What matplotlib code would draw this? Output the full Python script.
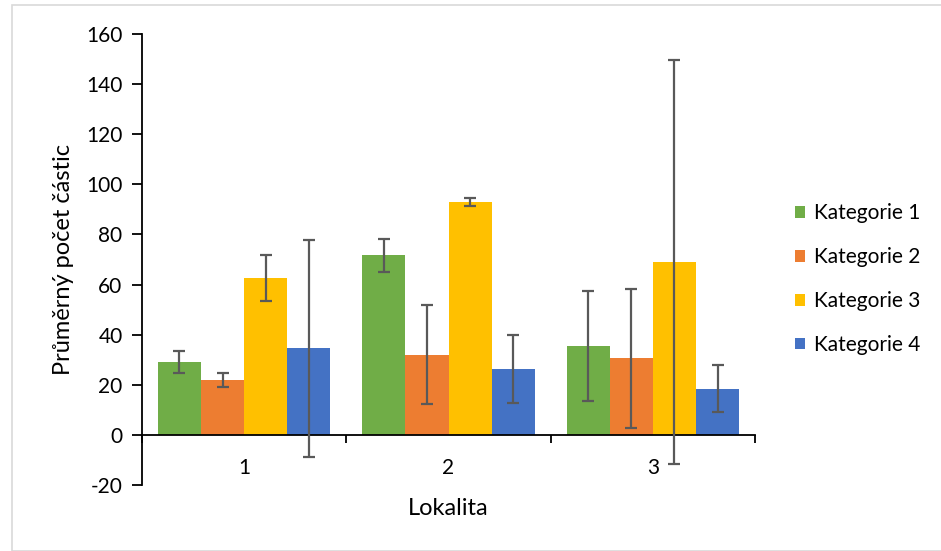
import matplotlib
matplotlib.use("Agg")
import matplotlib.pyplot as plt
from matplotlib.patches import Rectangle
import numpy as np

plt.rcParams['font.family'] = ['Lato', 'DejaVu Sans']

lokality = ["1", "2", "3"]
serie = ["Kategorie 1", "Kategorie 2", "Kategorie 3", "Kategorie 4"]
kat1 = [29.0, 71.6, 35.6]
kat2 = [21.9, 32.0, 30.5]
kat3 = [62.5, 92.9, 69.0]
kat4 = [34.5, 26.4, 18.4]
err1 = [4.3, 6.4, 22.0]
err2 = [2.8, 19.8, 27.6]
err3 = [9.2, 1.5, 80.7]
err4 = [43.2, 13.5, 9.3]
yticks = [-20, 0, 20, 40, 60, 80, 100, 120, 140, 160]

values = [kat1, kat2, kat3, kat4]
errors = [err1, err2, err3, err4]
colors = ["#70AD47", "#ED7D31", "#FFC000", "#4472C4"]

fig = plt.figure(figsize=(9.41, 5.51), dpi=100)
fig.patches.append(Rectangle((12/941, 0), 1, 1 - 5/551, transform=fig.transFigure,
                             fill=False, edgecolor="#D9D9D9", linewidth=1.2))

ax = fig.add_axes([142/941, 1 - 485/551, (755 - 142)/941, (485 - 34)/551])

x = np.arange(len(lokality))
w = 0.211
for i, (v, e, c, name) in enumerate(zip(values, errors, colors, serie)):
    pos = x + (i - 1.5) * w
    ax.bar(pos, v, width=w, color=c, label=name, linewidth=0, zorder=2)
    ax.errorbar(pos, v, yerr=e, fmt='none', ecolor="#595959", elinewidth=1.6,
                capsize=4.5, capthick=1.6, zorder=3)

ax.set_xlim(-0.5, len(lokality) - 0.5)
ax.set_ylim(-20, 160)
ax.set_yticks(yticks)
ax.set_yticklabels([str(t) for t in yticks])

for s in ["top", "right"]:
    ax.spines[s].set_visible(False)
ax.spines["bottom"].set_position(("data", 0))
ax.spines["bottom"].set_linewidth(1.3)
ax.spines["left"].set_linewidth(1.3)

ax.set_xticks(np.arange(len(lokality) + 1) - 0.5)
ax.set_xticklabels([])
ax.tick_params(axis="x", which="major", direction="out", length=6, width=1.3)
ax.set_xticks(x, minor=True)
ax.set_xticklabels(lokality, minor=True)
ax.tick_params(axis="x", which="minor", length=0, pad=17, labelsize=15)
ax.tick_params(axis="y", direction="out", length=7, width=1.3, labelsize=15, pad=7)

ax.set_ylabel("Průměrný počet částic", fontsize=17, labelpad=9)
ax.set_xlabel("Lokalita", fontsize=17, labelpad=0)
ax.xaxis.set_label_coords(0.5, (485 - 498) / (485 - 34))

leg = ax.legend(loc="center left", bbox_to_anchor=(776/941, 1 - 279/551),
                bbox_transform=fig.transFigure, frameon=False, fontsize=15,
                handlelength=0.5, handleheight=0.5, handletextpad=0.4,
                labelspacing=1.15)

fig.savefig("out.png", dpi=100)
